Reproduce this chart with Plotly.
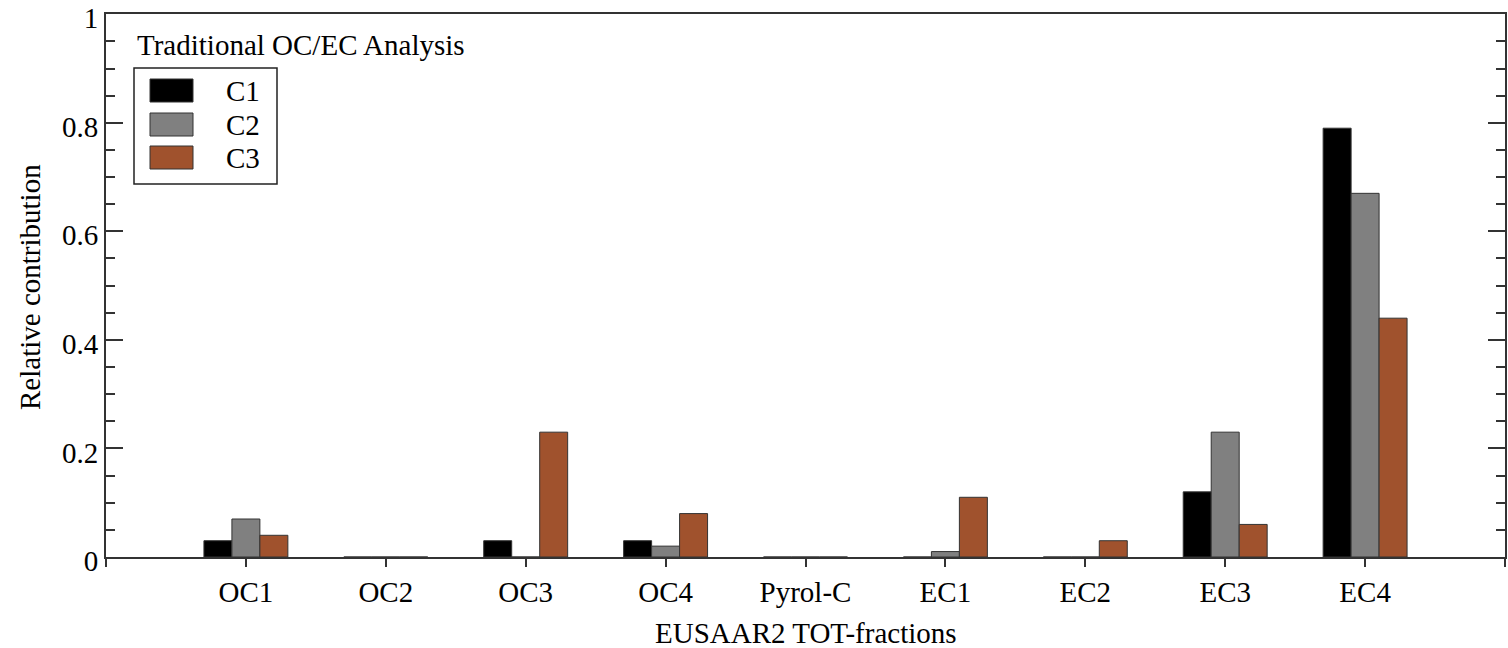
import plotly.graph_objects as go

# EUSAAR2 thermal-optical fractions and the relative contribution of each component
fractions = ["OC1", "OC2", "OC3", "OC4", "Pyrol-C", "EC1", "EC2", "EC3", "EC4"]
c1 = [0.03, 0.0, 0.03, 0.03, 0.0, 0.0, 0.0, 0.12, 0.79]
c2 = [0.07, 0.0, 0.0, 0.02, 0.0, 0.01, 0.0, 0.23, 0.67]
c3 = [0.04, 0.0, 0.23, 0.08, 0.0, 0.11, 0.03, 0.06, 0.44]
series_names = ["C1", "C2", "C3"]
series_colors = ["#000000", "#808080", "#A0522D"]
y_ticks = [0, 0.2, 0.4, 0.6, 0.8, 1]
y_tick_text = ["0", "0.2", "0.4", "0.6", "0.8", "1"]

W, H = 1508, 648
M_L, M_R, M_T, M_B = 106, 3, 14, 91
PW, PH = W - M_L - M_R, H - M_T - M_B
FONT = "Liberation Serif"
FS = 29


def px(x):
    return (x - M_L) / PW


def py(y):
    return (H - M_B - y) / PH


positions = list(range(len(fractions)))
fig = go.Figure()
for name, vals, col in zip(series_names, [c1, c2, c3], series_colors):
    fig.add_trace(go.Bar(
        x=positions, y=vals, name=name, marker_color=col,
        marker_line=dict(color="#333333", width=1), showlegend=False,
    ))

# Boxed legend drawn in paper space
shapes = [dict(type="rect", xref="paper", yref="paper",
               x0=px(134), x1=px(277), y0=py(184), y1=py(68),
               line=dict(color="#222222", width=1.5), fillcolor="white")]
annotations = []
sw_top = [79, 113, 146]
for name, col, top in zip(series_names, series_colors, sw_top):
    shapes.append(dict(type="rect", xref="paper", yref="paper",
                       x0=px(150), x1=px(193), y0=py(top + 23), y1=py(top),
                       line=dict(color="#333333", width=1), fillcolor=col))
    annotations.append(dict(text=name, xref="paper", yref="paper",
                            x=px(224), y=py(top + 12), xanchor="left", yanchor="middle",
                            showarrow=False, font=dict(family=FONT, size=FS, color="black")))

annotations += [
    dict(text="Traditional OC/EC Analysis", xref="paper", yref="paper",
         x=px(135), y=py(45), xanchor="left", yanchor="middle", showarrow=False,
         font=dict(family=FONT, size=FS, color="black")),
    dict(text="EUSAAR2 TOT-fractions", xref="paper", yref="paper",
         x=0.5, y=py(633), xanchor="center", yanchor="middle", showarrow=False,
         font=dict(family=FONT, size=FS, color="black")),
    dict(text="Relative contribution", xref="paper", yref="paper",
         x=px(30), y=py(287), xanchor="center", yanchor="middle", textangle=-90,
         showarrow=False, font=dict(family=FONT, size=FS, color="black")),
]

fig.update_layout(
    width=W, height=H,
    margin=dict(l=M_L, r=M_R, t=M_T, b=M_B, pad=0, autoexpand=False),
    paper_bgcolor="white", plot_bgcolor="white",
    barmode="group", bargap=0.4, bargroupgap=0,
    font=dict(family=FONT, size=FS, color="black"),
    shapes=shapes, annotations=annotations,
)
fig.update_xaxes(
    range=[-1, 9], tickvals=[-1] + positions + [9], ticktext=[""] + fractions + [""],
    automargin=False,
    showgrid=False, zeroline=False, showline=True, linecolor="#333333", linewidth=2,
    mirror=True, ticks="outside", ticklen=8, tickwidth=1.5, tickcolor="#333333",
    tickfont=dict(family=FONT, size=FS, color="black"),
)
fig.update_yaxes(
    range=[0, 1.0004], tickvals=y_ticks, ticktext=y_tick_text,
    ticklabeloverflow="allow", automargin=False, ticklabelshift=4,
    showgrid=False, zeroline=False, showline=True, linecolor="#333333", linewidth=2,
    mirror="ticks", ticks="inside", ticklen=17, tickwidth=2, tickcolor="#333333",
    minor=dict(dtick=0.05, ticks="inside", ticklen=9, tickwidth=1.5, tickcolor="#333333"),
    tickfont=dict(family=FONT, size=FS, color="black"),
)

fig.write_html("out.html")
